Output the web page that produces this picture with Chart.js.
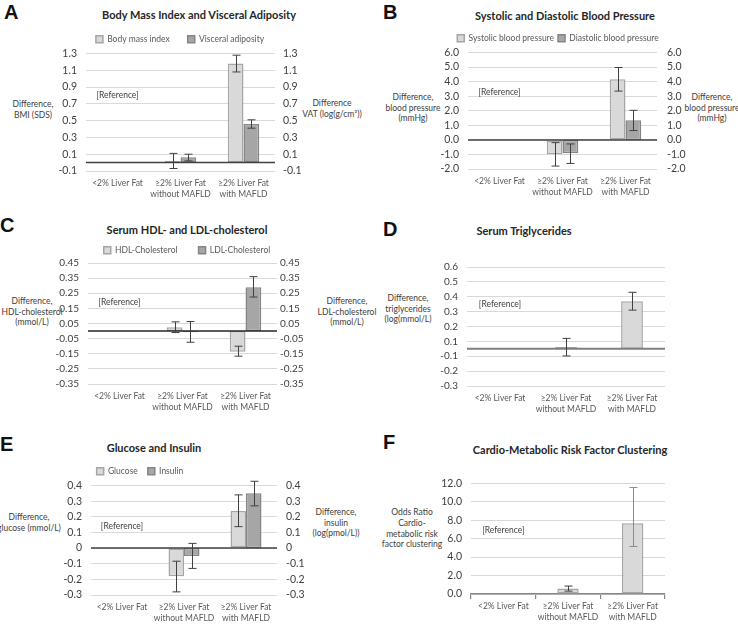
<!DOCTYPE html>
<html>
<head>
<meta charset="utf-8">
<script src="https://cdn.jsdelivr.net/npm/chart.js@4.4.1/dist/chart.umd.min.js"></script>
<style>
  body { margin: 0; width: 738px; height: 626px; background: #fff; position: relative; overflow: hidden; font-family: Lato, sans-serif; }
  canvas { position: absolute; }
  .letter { position: absolute; font: bold 20px 'Liberation Sans', Arial, sans-serif; line-height: 20px; color: #111; }
  .title { position: absolute; font-weight: bold; font-size: 11px; color: #262626; white-space: nowrap; transform: translate(-50%, -50%); }
  .ax { position: absolute; font-size: 8.5px; line-height: 10.5px; color: #404040; text-align: center; white-space: nowrap; transform: translate(-50%, -50%); }
</style>
</head>
<body>

<div class="letter" style="left:4px;top:2px">A</div>
<div class="letter" style="left:383px;top:2px">B</div>
<div class="letter" style="left:0px;top:215px">C</div>
<div class="letter" style="left:383px;top:219px">D</div>
<div class="letter" style="left:0px;top:434px">E</div>
<div class="letter" style="left:383px;top:432px">F</div>

<div class="title" style="left:199px;top:14px">Body Mass Index and Visceral Adiposity</div>
<div class="title" style="left:565px;top:15px">Systolic and Diastolic Blood Pressure</div>
<div class="title" style="left:187px;top:229px">Serum HDL- and LDL-cholesterol</div>
<div class="title" style="left:524px;top:230px">Serum Triglycerides</div>
<div class="title" style="left:154px;top:447px">Glucose and Insulin</div>
<div class="title" style="left:570px;top:449px">Cardio-Metabolic Risk Factor Clustering</div>

<div class="ax" style="left:33px;top:109px">Difference,<br>BMI (SDS)</div>
<div class="ax" style="left:332px;top:108px">Difference<br>VAT (log(g/cm³))</div>
<div class="ax" style="left:413px;top:108px">Difference,<br>blood pressure<br>(mmHg)</div>
<div class="ax" style="left:712px;top:108px">Difference,<br>blood pressure<br>(mmHg)</div>
<div class="ax" style="left:32px;top:312px">Difference,<br>HDL-cholesterol<br>(mmol/L)</div>
<div class="ax" style="left:347px;top:312px">Difference,<br>LDL-cholesterol<br>(mmol/L)</div>
<div class="ax" style="left:408px;top:309px">Difference,<br>triglycerides<br>(log(mmol/L)</div>
<div class="ax" style="left:29px;top:522px">Difference,<br>glucose (mmol/L)</div>
<div class="ax" style="left:336px;top:523px">Difference,<br>insulin<br>(log(pmol/L))</div>
<div class="ax" style="left:412px;top:529px;line-height:10.8px">Odds Ratio<br>Cardio-<br>metabolic risk<br>factor clustering</div>

<canvas id="chartA"></canvas>
<canvas id="chartB"></canvas>
<canvas id="chartC"></canvas>
<canvas id="chartD"></canvas>
<canvas id="chartE"></canvas>
<canvas id="chartF"></canvas>

<script>
const categories = ['<2% Liver Fat', ['≥2% Liver Fat', 'without MAFLD'], ['≥2% Liver Fat', 'with MAFLD']];

// A - body mass index / visceral adiposity
const bmi = [null, 0.02, 1.18];
const bmiLow = [null, -0.07, 1.08];
const bmiHigh = [null, 0.11, 1.28];
const vat = [null, 0.065, 0.46];
const vatLow = [null, 0.02, 0.41];
const vatHigh = [null, 0.10, 0.51];

// B - blood pressure
const systolic = [null, -0.99, 4.16];
const systolicLow = [null, -1.80, 3.35];
const systolicHigh = [null, -0.19, 4.97];
const diastolic = [null, -0.92, 1.35];
const diastolicLow = [null, -1.62, 0.64];
const diastolicHigh = [null, -0.28, 2.03];

// C - cholesterol
const hdl = [null, 0.026, -0.136];
const hdlLow = [null, -0.01, -0.166];
const hdlHigh = [null, 0.061, -0.10];
const ldl = [null, -0.008, 0.29];
const ldlLow = [null, -0.074, 0.225];
const ldlHigh = [null, 0.063, 0.36];

// D - triglycerides (axis labels in the original are rounded away from the real gridline values)
const trig = [null, 0.012, 0.32];
const trigLow = [null, -0.048, 0.26];
const trigHigh = [null, 0.07, 0.38];
const trigTickLabels = ['-0.3', '-0.2', '-0.1', '0.1', '0.2', '0.3', '0.4', '0.5', '0.6'];

// E - glucose / insulin
const glucose = [null, -0.18, 0.237];
const glucoseLow = [null, -0.28, 0.137];
const glucoseHigh = [null, -0.084, 0.34];
const insulin = [null, -0.05, 0.35];
const insulinLow = [null, -0.13, 0.27];
const insulinHigh = [null, 0.03, 0.427];

// F - odds ratio
const oddsRatio = [null, 0.59, 7.68];
const oddsLow = [null, 0.31, 5.15];
const oddsHigh = [null, 0.86, 11.55];

Chart.defaults.font.family = 'Lato, sans-serif';
Chart.defaults.color = '#404040';

const LIGHT = { backgroundColor: '#d9d9d9', borderColor: '#a6a6a6' };
const DARK = { backgroundColor: '#a6a6a6', borderColor: '#858585' };

// horizontal line where the category axis crosses
const zeroLine = {
  id: 'zeroLine',
  afterDatasetsDraw(chart, args, opts) {
    if (!opts.color) return;
    const { ctx, chartArea: { left, right } } = chart;
    const y = chart.scales.y.getPixelForValue(0);
    ctx.save();
    ctx.strokeStyle = opts.color;
    ctx.lineWidth = opts.width || 1.5;
    ctx.beginPath();
    ctx.moveTo(left, y);
    ctx.lineTo(right, y);
    ctx.stroke();
    ctx.restore();
  }
};

const errorBars = {
  id: 'errorBars',
  afterDatasetsDraw(chart) {
    const ctx = chart.ctx;
    chart.data.datasets.forEach((ds, di) => {
      const meta = chart.getDatasetMeta(di);
      const yScale = chart.scales[meta.yAxisID];
      meta.data.forEach((bar, i) => {
        if (ds.low == null || ds.low[i] == null) return;
        const yl = yScale.getPixelForValue(ds.low[i]);
        const yh = yScale.getPixelForValue(ds.high[i]);
        const x = Math.round(bar.x) + 0.5;
        ctx.save();
        ctx.strokeStyle = Array.isArray(ds.errColor) ? ds.errColor[i] : (ds.errColor || '#404040');
        ctx.lineWidth = 1;
        ctx.beginPath();
        ctx.moveTo(x, yl); ctx.lineTo(x, yh);
        ctx.moveTo(x - 4, yl); ctx.lineTo(x + 4, yl);
        ctx.moveTo(x - 4, yh); ctx.lineTo(x + 4, yh);
        ctx.stroke();
        ctx.restore();
      });
    });
  }
};

// "[Reference]" note over the first category
const refNote = {
  id: 'refNote',
  afterDraw(chart, args, opts) {
    if (opts.y == null) return;
    const ctx = chart.ctx;
    ctx.save();
    ctx.font = '8.5px Lato, sans-serif';
    ctx.fillStyle = '#404040';
    ctx.textAlign = 'center';
    ctx.textBaseline = 'middle';
    ctx.fillText('[Reference]', chart.scales.x.getPixelForValue(0), chart.scales.y.getPixelForValue(opts.y));
    ctx.restore();
  }
};

function bars(label, data, low, high, colors, extra) {
  return Object.assign({
    label, data, low, high,
    backgroundColor: colors.backgroundColor,
    borderColor: colors.borderColor,
    borderWidth: 1.5,
    borderSkipped: false
  }, extra || {});
}

function makeChart(id, p) {
  const canvas = document.getElementById(id);
  canvas.width = p.w;
  canvas.height = p.h;
  canvas.style.left = p.cl + 'px';
  canvas.style.top = p.ct + 'px';

  const yTicks = {
    stepSize: p.step,
    autoSkip: false,
    color: '#404040',
    font: { size: p.tickSize || 10.5 },
    padding: 9,
    callback: p.fmt
  };

  const scales = {
    x: {
      offset: true,
      grid: p.xTicks
        ? { display: true, drawOnChartArea: false, drawTicks: true, tickLength: 5, color: '#868686', lineWidth: 1.2, offset: true }
        : { display: false, drawTicks: false },
      border: { display: !!p.xTicks, color: '#868686', width: 1.5 },
      ticks: { color: '#595959', font: { size: 8.5, lineHeight: 1.25 }, padding: p.xTicks ? 2 : 7, maxRotation: 0, autoSkip: false },
      afterFit: s => { s.height = 30; }
    },
    y: {
      position: 'left',
      min: p.min, max: p.max,
      ticks: yTicks,
      grid: { color: '#d9d9d9', drawTicks: false },
      border: { display: false },
      afterFit: s => { s.width = p.L - p.cl - (p.pl || 0); }
    }
  };
  if (p.rightAxis) {
    scales.y2 = {
      position: 'right',
      min: p.min, max: p.max,
      ticks: Object.assign({}, yTicks, { padding: p.rightPad }),
      grid: { display: false, drawTicks: false },
      border: { display: false },
      afterFit: s => { s.width = p.cl + p.w - (p.pr || 0) - p.R; }
    };
  }

  return new Chart(canvas, {
    type: 'bar',
    data: { labels: categories, datasets: p.datasets },
    plugins: [zeroLine, errorBars, refNote],
    options: {
      responsive: false,
      animation: false,
      devicePixelRatio: 1,
      categoryPercentage: p.catPct,
      barPercentage: 1,
      layout: { padding: { left: p.pl || 0, right: p.pr || 0, top: p.pt || 0, bottom: 0 } },
      scales,
      plugins: {
        title: { display: false },
        tooltip: { enabled: false },
        legend: p.legendPad == null ? { display: false } : {
          display: true,
          position: 'top',
          maxHeight: p.legendH,
          labels: { boxWidth: 7, boxHeight: 7, padding: p.legendPad, color: '#595959', font: { size: 8.5 } }
        },
        zeroLine: { color: p.zeroColor, width: p.zeroWidth },
        refNote: { y: p.refY }
      }
    }
  });
}

const fmt1 = v => v.toFixed(1);

makeChart('chartA', {
  cl: 0, ct: 17, w: 360, h: 184, L: 86, R: 275, rightAxis: true, rightPad: 8,
  min: -0.1, max: 1.3, step: 0.2, fmt: fmt1,
  legendPad: 18, legendH: 39, catPct: 0.5, refY: 0.8,
  zeroColor: '#404040', zeroWidth: 1.5,
  datasets: [
    bars('Body mass index', bmi, bmiLow, bmiHigh, LIGHT),
    bars('Visceral adiposity', vat, vatLow, vatHigh, DARK, { yAxisID: 'y2' })
  ]
});

makeChart('chartB', {
  cl: 370, ct: 30, w: 368, h: 169, pl: 8, L: 468, R: 657, rightAxis: true, rightPad: 10,
  min: -2, max: 6, step: 1, fmt: fmt1,
  legendPad: 4, legendH: 23, catPct: 0.5, refY: 3.3,
  zeroColor: '#404040', zeroWidth: 1.5,
  datasets: [
    bars('Systolic blood pressure', systolic, systolicLow, systolicHigh, LIGHT),
    bars('Diastolic blood pressure', diastolic, diastolicLow, diastolicHigh, DARK, { yAxisID: 'y2' })
  ]
});

makeChart('chartC', {
  cl: 0, ct: 225, w: 374, h: 189, L: 88, R: 277, rightAxis: true, rightPad: 3,
  min: -0.35, max: 0.45, step: 0.1, fmt: v => v.toFixed(2), tickSize: 10,
  legendPad: 21, legendH: 38, catPct: 0.5, refY: 0.19,
  zeroColor: '#262626', zeroWidth: 1.5,
  datasets: [
    bars('HDL-Cholesterol', hdl, hdlLow, hdlHigh, LIGHT),
    bars('LDL-Cholesterol', ldl, ldlLow, ldlHigh, DARK, { yAxisID: 'y2' })
  ]
});

makeChart('chartD', {
  cl: 370, ct: 252, w: 305, h: 164, pt: 10, pr: 10, L: 467, R: 665,
  min: -0.25, max: 0.55, step: 0.1, fmt: (v, i) => trigTickLabels[i], tickSize: 10,
  catPct: 0.33, refY: 0.3,
  zeroColor: '#7f7f7f', zeroWidth: 2,
  datasets: [
    bars('Triglycerides', trig, trigLow, trigHigh, LIGHT)
  ]
});

makeChart('chartE', {
  cl: -30, ct: 457, w: 340, h: 168, L: 91, R: 277, rightAxis: true, rightPad: 9,
  min: -0.3, max: 0.4, step: 0.1, fmt: v => String(Math.round(v * 10) / 10),
  legendPad: 10, legendH: 30, catPct: 0.5, refY: 0.14,
  zeroColor: '#404040', zeroWidth: 1.5,
  datasets: [
    bars('Glucose', glucose, glucoseLow, glucoseHigh, LIGHT),
    bars('Insulin', insulin, insulinLow, insulinHigh, DARK, { yAxisID: 'y2' })
  ]
});

makeChart('chartF', {
  cl: 370, ct: 468, w: 305, h: 156, pt: 10, pr: 10, L: 471, R: 665,
  min: 0, max: 12, step: 2, fmt: fmt1, xTicks: true,
  catPct: 0.33, refY: 6.9,
  datasets: [
    bars('Odds ratio', oddsRatio, oddsLow, oddsHigh, LIGHT, { errColor: ['#404040', '#404040', '#8c8c8c'] })
  ]
});
</script>
</body>
</html>
